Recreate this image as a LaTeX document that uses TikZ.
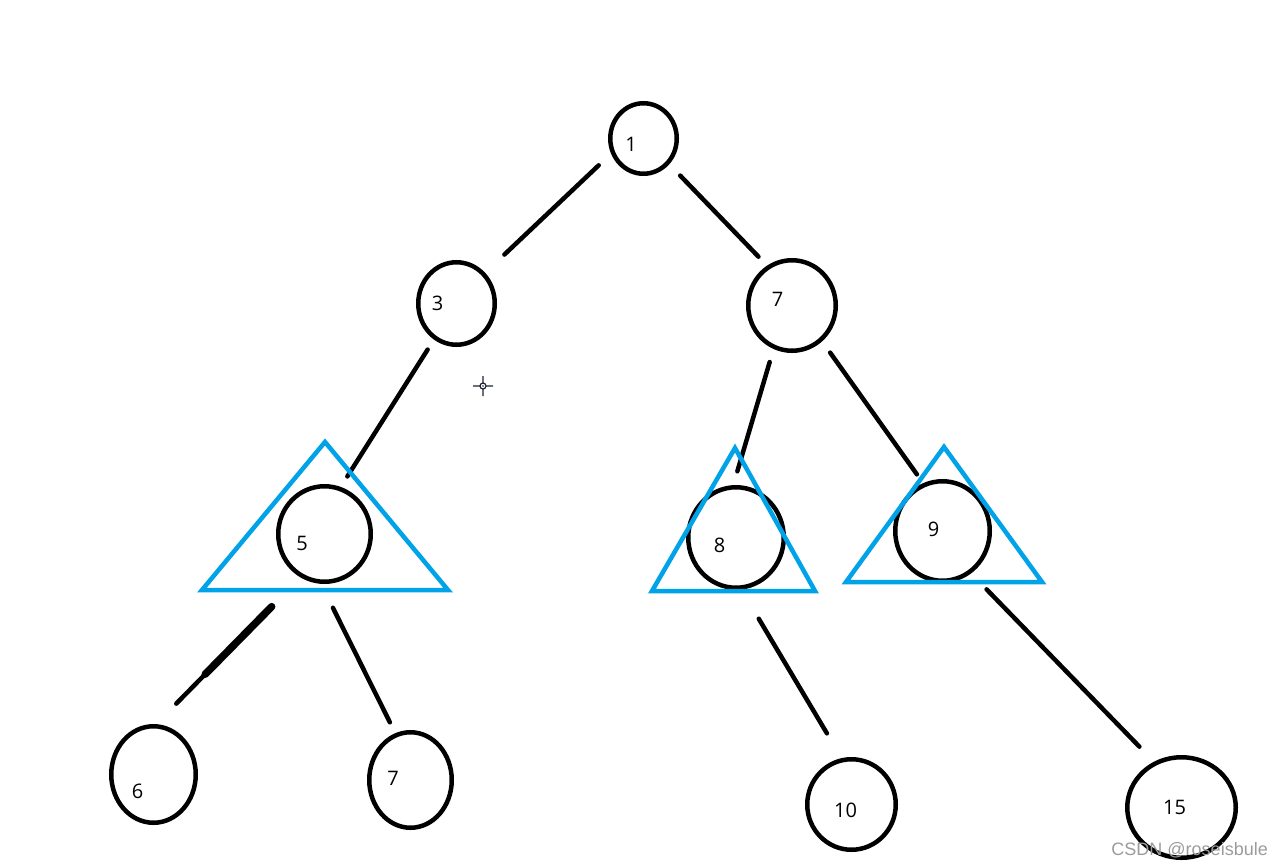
\documentclass[tikz,border=0pt]{standalone}
\usepackage{fontspec}
\setmainfont{Open Sans}
\newfontfamily\markfont{Liberation Sans}
\usepackage{tikz}
\usetikzlibrary{shapes.geometric}
\definecolor{paintblue}{RGB}{0,162,232}
\definecolor{markgray}{RGB}{155,155,155}
\definecolor{cursorink}{RGB}{30,34,52}

\begin{document}
\begin{tikzpicture}[x=1pt, y=-1pt,
  ring/.style={draw, ellipse, line width=4.5pt, inner sep=0pt},
  num/.style={inner sep=0pt, font=\fontsize{20}{24}\selectfont},
  edge/.style={line width=4.5pt, line cap=round},
  tri/.style={draw=paintblue, line width=4.5pt, line join=miter}]
  \useasboundingbox (0,0) rectangle (1284,867);
  % tree nodes
  \node[ring, minimum width=66.5pt, minimum height=70.5pt] (n1) at (643.5,138.5) {};
  \node[ring, minimum width=76.5pt, minimum height=82.5pt] (n3) at (456.5,303.5) {};
  \node[ring, minimum width=87.5pt, minimum height=90.5pt] (n7) at (792,305.5) {};
  \node[ring, minimum width=92.5pt, minimum height=95.5pt] (n5) at (324.5,534) {};
  \node[ring, minimum width=95.5pt, minimum height=100.5pt] (n8) at (736,537.5) {};
  \node[ring, minimum width=94.5pt, minimum height=99.5pt] (n9) at (942.5,531) {};
  \node[ring, minimum width=84.5pt, minimum height=96.5pt] (n6) at (153.5,774.5) {};
  \node[ring, minimum width=82.5pt, minimum height=95.5pt] (n7b) at (410.5,780) {};
  \node[ring, minimum width=88.5pt, minimum height=90.5pt] (n10) at (851.5,804.5) {};
  \node[ring, minimum width=108.5pt, minimum height=100.5pt] (n15) at (1181.5,807.5) {};
  % edges
  \draw[edge, shorten <=17pt, shorten >=26.5pt] (n1.205) -- (n3.47);
  \draw[edge, shorten <=15.7pt, shorten >=12.4pt] (n1.315) -- (n7.122);
  \draw[edge, shorten <=11.8pt, shorten >=12.4pt] (n3.238) -- (n5.71);
  \draw[edge, shorten <=13.6pt, shorten >=14.4pt] (n7.247) -- (n8.93);
  \draw[edge, shorten <=13.8pt, shorten >=10.8pt] (n7.310) -- (n9.112);
  \draw[edge, shorten <=40.8pt, shorten >=28.7pt] (n5.241) -- (n6.87);
  \draw[edge, line width=7.5pt, shorten <=41pt, shorten >=70pt] (n5.241) -- (n6.87);
  \draw[edge, shorten <=26.7pt, shorten >=12.1pt] (n5.266) -- (n7b.108);
  \draw[edge, shorten <=33.8pt, shorten >=28.8pt] (n8.276) -- (n10.102);
  \draw[edge, shorten <=22.2pt, shorten >=20.9pt] (n9.304) -- (n15.121);
  % marked subtrees
  \draw[tri] (325,442) -- (202,590) -- (448,590) -- cycle;
  \draw[tri] (735,448) -- (652,591) -- (815,591) -- cycle;
  \draw[tri] (944,447) -- (846,582) -- (1042,582) -- cycle;
  % values
  \node[num] (t1) at (631,144.5) {1};
  \node[num] (t3) at (437.5,303.5) {3};
  \node[num] (t7) at (777.5,299) {7};
  \node[num] (t5) at (302,543) {5};
  \node[num] (t8) at (719.5,545.5) {8};
  \node[num] (t9) at (933.5,529) {9};
  \node[num] (t6) at (137.5,791) {6};
  \node[num] (t7b) at (393,778) {7};
  \node[num] (t10) at (845.5,810.5) {10};
  \node[num] (t15) at (1174.5,807) {15};
  % cursor
  \draw[cursorink, line width=1.2pt] (483,386) circle[radius=3]
    (483,376) -- (483,382.5) (483,389.5) -- (483,396)
    (473,386) -- (479.5,386) (486.5,386) -- (493,386);
  \fill[cursorink] (483,386) circle[radius=0.8];
  \node[font=\markfont\fontsize{18}{20}\selectfont, text=markgray, anchor=base east, inner sep=0pt] (mark) at (1268,855) {CSDN @roseisbule};
\end{tikzpicture}
\end{document}
